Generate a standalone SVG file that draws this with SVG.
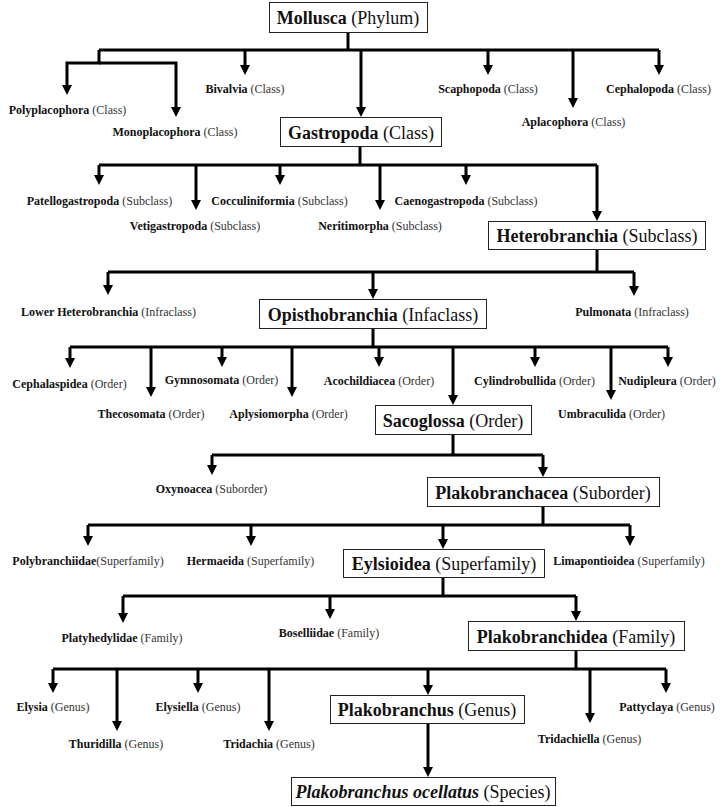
<svg xmlns="http://www.w3.org/2000/svg" width="725" height="807" viewBox="0 0 725 807">
<style>
  .bg{fill:#fff}
  .box{fill:#fff;stroke:#222;stroke-width:1}
  .big{font-family:"Liberation Serif","Times New Roman",serif;font-size:18px;fill:#111;text-anchor:middle}
  .sm{font-family:"Liberation Serif","Times New Roman",serif;font-size:12px;fill:#111;text-anchor:middle}
  .b{font-weight:bold}
  .r{fill:#333}
  .c{fill:none;stroke:#000;stroke-width:3;stroke-linejoin:miter}
  .a{marker-end:url(#ah)}
</style>
<defs>
  <marker id="ah" markerUnits="userSpaceOnUse" markerWidth="10" markerHeight="10" viewBox="0 0 10 10" refX="2" refY="5" orient="auto">
    <path d="M0,0 L10,5 L0,10 Z" fill="#000"/>
  </marker>
</defs>
<rect class="bg" x="0" y="0" width="725" height="807"/>

<g id="connectors">
  <path class="c" d="M348,32 V50 M99,50 H659"/>
  <path class="c a" d="M99,50 V63 H67 V87"/>
  <path class="c a" d="M99,63 H176 V109"/>
  <path class="c a" d="M245,50 V67"/>
  <path class="c a" d="M361,50 V109"/>
  <path class="c a" d="M488,50 V67"/>
  <path class="c a" d="M573,50 V100"/>
  <path class="c a" d="M659,50 V67"/>

  <path class="c" d="M360,146 V165 M99,165 H597"/>
  <path class="c a" d="M99,165 V177"/>
  <path class="c a" d="M196,165 V202"/>
  <path class="c a" d="M280,165 V177"/>
  <path class="c a" d="M380,165 V202"/>
  <path class="c a" d="M466,165 V177"/>
  <path class="c a" d="M597,165 V213"/>

  <path class="c" d="M597,249 V272 M108,272 H634"/>
  <path class="c a" d="M108,272 V287"/>
  <path class="c a" d="M373,272 V291"/>
  <path class="c a" d="M634,272 V288"/>

  <path class="c" d="M373,328 V347 M70,347 H668"/>
  <path class="c a" d="M70,347 V360"/>
  <path class="c a" d="M151,347 V389"/>
  <path class="c a" d="M222,347 V359"/>
  <path class="c a" d="M292,347 V389"/>
  <path class="c a" d="M379,347 V359"/>
  <path class="c a" d="M453,347 V397"/>
  <path class="c a" d="M535,347 V359"/>
  <path class="c a" d="M611,347 V392"/>
  <path class="c a" d="M668,347 V359"/>

  <path class="c" d="M453,434 V455 M212,455 H543"/>
  <path class="c a" d="M212,455 V467"/>
  <path class="c a" d="M543,455 V469"/>

  <path class="c" d="M543,506 V525 M88,525 H630"/>
  <path class="c a" d="M88,525 V538"/>
  <path class="c a" d="M251,525 V538"/>
  <path class="c a" d="M443,525 V541"/>
  <path class="c a" d="M630,525 V538"/>

  <path class="c" d="M443,577 V596 M123,596 H576"/>
  <path class="c a" d="M123,596 V615"/>
  <path class="c a" d="M330,596 V611"/>
  <path class="c a" d="M576,596 V613"/>

  <path class="c" d="M576,650 V669 M53,669 H666"/>
  <path class="c a" d="M53,669 V685"/>
  <path class="c a" d="M117,669 V723"/>
  <path class="c a" d="M198,669 V685"/>
  <path class="c a" d="M269,669 V723"/>
  <path class="c a" d="M428,669 V687"/>
  <path class="c a" d="M590,669 V715"/>
  <path class="c a" d="M666,669 V685"/>

  <path class="c a" d="M428,723 V769"/>
</g>

<g id="mollusca"><rect class="box" x="269.5" y="2.5" width="158" height="30"/><text class="big" x="348" y="24"><tspan class="b">Mollusca</tspan> (Phylum)</text></g>
<g id="polyplacophora"><text class="sm" x="67.5" y="114"><tspan class="b">Polyplacophora</tspan><tspan class="r"> (Class)</tspan></text></g>
<g id="monoplacophora"><text class="sm" x="175" y="136"><tspan class="b">Monoplacophora</tspan><tspan class="r"> (Class)</tspan></text></g>
<g id="bivalvia"><text class="sm" x="245" y="93"><tspan class="b">Bivalvia</tspan><tspan class="r"> (Class)</tspan></text></g>
<g id="scaphopoda"><text class="sm" x="488" y="93"><tspan class="b">Scaphopoda</tspan><tspan class="r"> (Class)</tspan></text></g>
<g id="aplacophora"><text class="sm" x="573.5" y="126"><tspan class="b">Aplacophora</tspan><tspan class="r"> (Class)</tspan></text></g>
<g id="cephalopoda"><text class="sm" x="658.5" y="93"><tspan class="b">Cephalopoda</tspan><tspan class="r"> (Class)</tspan></text></g>

<g id="gastropoda"><rect class="box" x="280.5" y="117.5" width="161" height="29"/><text class="big" x="361" y="139"><tspan class="b">Gastropoda</tspan> (Class)</text></g>
<g id="patellogastropoda"><text class="sm" x="99.5" y="205"><tspan class="b">Patellogastropoda</tspan><tspan class="r"> (Subclass)</tspan></text></g>
<g id="vetigastropoda"><text class="sm" x="195" y="230"><tspan class="b">Vetigastropoda</tspan><tspan class="r"> (Subclass)</tspan></text></g>
<g id="cocculiniformia"><text class="sm" x="279.5" y="205"><tspan class="b">Cocculiniformia</tspan><tspan class="r"> (Subclass)</tspan></text></g>
<g id="neritimorpha"><text class="sm" x="380" y="230"><tspan class="b">Neritimorpha</tspan><tspan class="r"> (Subclass)</tspan></text></g>
<g id="caenogastropoda"><text class="sm" x="466" y="205"><tspan class="b">Caenogastropoda</tspan><tspan class="r"> (Subclass)</tspan></text></g>

<g id="heterobranchia"><rect class="box" x="488.5" y="221.5" width="217" height="28"/><text class="big" x="597" y="242"><tspan class="b">Heterobranchia</tspan> (Subclass)</text></g>
<g id="lower-heterobranchia"><text class="sm" x="108.5" y="316"><tspan class="b">Lower Heterobranchia</tspan><tspan class="r"> (Infraclass)</tspan></text></g>
<g id="pulmonata"><text class="sm" x="632" y="316"><tspan class="b">Pulmonata</tspan><tspan class="r"> (Infraclass)</tspan></text></g>

<g id="opisthobranchia"><rect class="box" x="259.5" y="299.5" width="227" height="29"/><text class="big" x="373" y="321"><tspan class="b">Opisthobranchia</tspan> (Infaclass)</text></g>
<g id="cephalaspidea"><text class="sm" x="69.5" y="388"><tspan class="b">Cephalaspidea</tspan><tspan class="r"> (Order)</tspan></text></g>
<g id="thecosomata"><text class="sm" x="151" y="418"><tspan class="b">Thecosomata</tspan><tspan class="r"> (Order)</tspan></text></g>
<g id="gymnosomata"><text class="sm" x="221.5" y="384"><tspan class="b">Gymnosomata</tspan><tspan class="r"> (Order)</tspan></text></g>
<g id="aplysiomorpha"><text class="sm" x="288.5" y="418"><tspan class="b">Aplysiomorpha</tspan><tspan class="r"> (Order)</tspan></text></g>
<g id="acochildiacea"><text class="sm" x="379" y="385"><tspan class="b">Acochildiacea</tspan><tspan class="r"> (Order)</tspan></text></g>
<g id="cylindrobullida"><text class="sm" x="534.5" y="385"><tspan class="b">Cylindrobullida</tspan><tspan class="r"> (Order)</tspan></text></g>
<g id="umbraculida"><text class="sm" x="611.5" y="418"><tspan class="b">Umbraculida</tspan><tspan class="r"> (Order)</tspan></text></g>
<g id="nudipleura"><text class="sm" x="667" y="385"><tspan class="b">Nudipleura</tspan><tspan class="r"> (Order)</tspan></text></g>

<g id="sacoglossa"><rect class="box" x="375.5" y="405.5" width="156" height="29"/><text class="big" x="453" y="427"><tspan class="b">Sacoglossa</tspan> (Order)</text></g>
<g id="oxynoacea"><text class="sm" x="211.5" y="493"><tspan class="b">Oxynoacea</tspan><tspan class="r"> (Suborder)</tspan></text></g>

<g id="plakobranchacea"><rect class="box" x="427.5" y="477.5" width="232" height="29"/><text class="big" x="543" y="499"><tspan class="b">Plakobranchacea</tspan> (Suborder)</text></g>
<g id="polybranchiidae"><text class="sm" x="88" y="565"><tspan class="b">Polybranchiidae</tspan><tspan class="r">(Superfamily)</tspan></text></g>
<g id="hermaeida"><text class="sm" x="250.5" y="565"><tspan class="b">Hermaeida</tspan><tspan class="r"> (Superfamily)</tspan></text></g>
<g id="limapontioidea"><text class="sm" x="629" y="565"><tspan class="b">Limapontioidea</tspan><tspan class="r"> (Superfamily)</tspan></text></g>

<g id="eylsioidea"><rect class="box" x="343.5" y="549.5" width="201" height="28"/><text class="big" x="444" y="570"><tspan class="b">Eylsioidea</tspan> (Superfamily)</text></g>
<g id="platyhedylidae"><text class="sm" x="122" y="642"><tspan class="b">Platyhedylidae</tspan><tspan class="r"> (Family)</tspan></text></g>
<g id="boselliidae"><text class="sm" x="329" y="637"><tspan class="b">Boselliidae</tspan><tspan class="r"> (Family)</tspan></text></g>

<g id="plakobranchidea"><rect class="box" x="468.5" y="621.5" width="216" height="29"/><text class="big" x="576" y="643"><tspan class="b">Plakobranchidea</tspan> (Family)</text></g>
<g id="elysia"><text class="sm" x="53" y="711"><tspan class="b">Elysia</tspan><tspan class="r"> (Genus)</tspan></text></g>
<g id="thuridilla"><text class="sm" x="116" y="748"><tspan class="b">Thuridilla</tspan><tspan class="r"> (Genus)</tspan></text></g>
<g id="elysiella"><text class="sm" x="198" y="711"><tspan class="b">Elysiella</tspan><tspan class="r"> (Genus)</tspan></text></g>
<g id="tridachia"><text class="sm" x="269" y="748"><tspan class="b">Tridachia</tspan><tspan class="r"> (Genus)</tspan></text></g>
<g id="tridachiella"><text class="sm" x="589.5" y="743"><tspan class="b">Tridachiella</tspan><tspan class="r"> (Genus)</tspan></text></g>
<g id="pattyclaya"><text class="sm" x="667" y="711"><tspan class="b">Pattyclaya</tspan><tspan class="r"> (Genus)</tspan></text></g>

<g id="plakobranchus"><rect class="box" x="330.5" y="695.5" width="194" height="28"/><text class="big" x="427" y="716"><tspan class="b">Plakobranchus</tspan> (Genus)</text></g>
<g id="plakobranchus-ocellatus"><rect class="box" x="291.5" y="777.5" width="264" height="28"/><text class="big" x="423" y="798"><tspan class="b" font-style="italic">Plakobranchus ocellatus</tspan> (Species)</text></g>
</svg>
